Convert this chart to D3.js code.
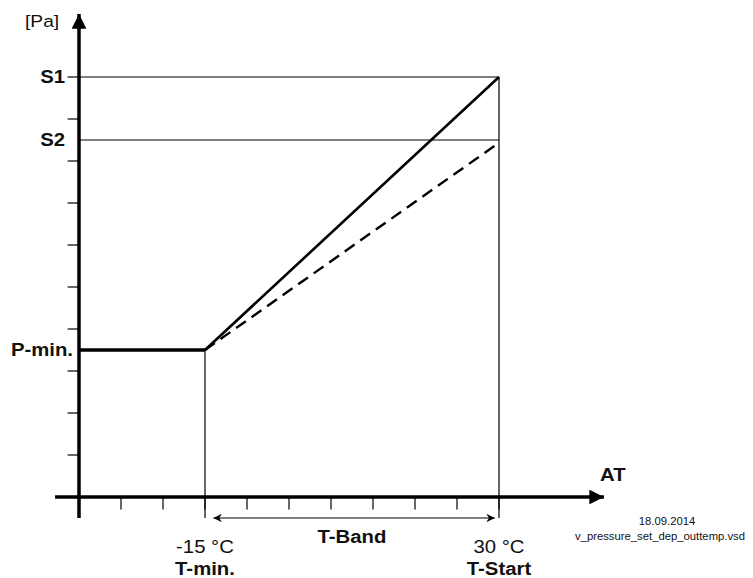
<!DOCTYPE html>
<html>
<head>
<meta charset="utf-8">
<script src="https://cdn.jsdelivr.net/npm/d3@7"></script>
<style>
  body { margin: 0; background: #fff; }
  text { font-family: "Liberation Sans", Arial, sans-serif; fill: #111; }
</style>
</head>
<body>
<svg id="chart" width="753" height="578"></svg>
<script>
// chart values (axis units = one tick step)
const xTicks = [1, 2, 3, 4, 5, 6, 7, 8, 9, 10];
const yTicks = [1, 2, 3, 4, 5, 6, 7, 8, 9, 10];
const tempPos = [3, 10];
const tempLabels = ['-15 °C', '30 °C'];
const tempNames = ['T-min.', 'T-Start'];
const levelNames = ['S1', 'S2'];
const levelValues = [10, 8.5];
const pMin = 3.5;
const solidLine = [[3, 3.5], [10, 10]];
const dashedLine = [[3, 3.5], [9.95, 8.4]];
const xMax = 12.5, yMax = 11.5;

const svg = d3.select('#chart');
const x = d3.scaleLinear().domain([0, 10]).range([79, 499]);
const y = d3.scaleLinear().domain([0, 10]).range([497, 77]);
const line = d3.line().x(d => x(d[0])).y(d => y(d[1]));

const defs = svg.append('defs');
defs.append('marker').attr('id', 'big').attr('viewBox', '0 0 10 10')
  .attr('refX', 10).attr('refY', 5).attr('markerWidth', 6).attr('markerHeight', 4.2)
  .attr('markerUnits', 'strokeWidth').attr('orient', 'auto')
  .append('path').attr('d', 'M0,0L10,5L0,10Z').attr('fill', '#000');
defs.append('marker').attr('id', 'small').attr('viewBox', '0 0 10 10')
  .attr('refX', 10).attr('refY', 5).attr('markerWidth', 12).attr('markerHeight', 7)
  .attr('markerUnits', 'strokeWidth').attr('orient', 'auto-start-reverse')
  .append('path').attr('d', 'M0,0L10,5L0,10L3,5Z').attr('fill', '#000');

// thin guide lines
levelValues.forEach(v => {
  svg.append('line').attr('x1', x(0)).attr('x2', x(10)).attr('y1', y(v)).attr('y2', y(v))
    .attr('stroke', '#000').attr('stroke-width', 1.2);
});
svg.append('line').attr('x1', x(tempPos[0])).attr('x2', x(tempPos[0]))
  .attr('y1', y(pMin)).attr('y2', y(-0.5)).attr('stroke', '#000').attr('stroke-width', 1.2);
svg.append('line').attr('x1', x(tempPos[1])).attr('x2', x(tempPos[1]))
  .attr('y1', y(10)).attr('y2', y(-0.5)).attr('stroke', '#000').attr('stroke-width', 1.2);

// ticks
svg.selectAll('.xt').data(xTicks).enter().append('line')
  .attr('x1', d => x(d)).attr('x2', d => x(d)).attr('y1', y(0)).attr('y2', y(-0.3))
  .attr('stroke', '#000').attr('stroke-width', 1.2);
svg.selectAll('.yt').data(yTicks).enter().append('line')
  .attr('x1', x(-0.27)).attr('x2', x(0)).attr('y1', d => y(d)).attr('y2', d => y(d))
  .attr('stroke', '#000').attr('stroke-width', 1.2);

// axes
svg.append('line').attr('x1', x(0)).attr('x2', x(0)).attr('y1', y(-0.5)).attr('y2', y(yMax))
  .attr('stroke', '#000').attr('stroke-width', 3.5).attr('marker-end', 'url(#big)');
svg.append('line').attr('x1', x(-0.57)).attr('x2', x(xMax)).attr('y1', y(0)).attr('y2', y(0))
  .attr('stroke', '#000').attr('stroke-width', 3.5).attr('marker-end', 'url(#big)');

// curves
svg.append('line').attr('x1', x(0)).attr('x2', x(3)).attr('y1', y(pMin)).attr('y2', y(pMin))
  .attr('stroke', '#000').attr('stroke-width', 3.5);
svg.append('path').attr('d', line(solidLine)).attr('fill', 'none')
  .attr('stroke', '#000').attr('stroke-width', 2.6);
svg.append('path').attr('d', line(dashedLine)).attr('fill', 'none')
  .attr('stroke', '#000').attr('stroke-width', 2.4).attr('stroke-dasharray', '12 7');

// T-Band arrow
svg.append('line').attr('x1', x(3.2)).attr('x2', x(9.9)).attr('y1', y(-0.5)).attr('y2', y(-0.5))
  .attr('stroke', '#000').attr('stroke-width', 1.2)
  .attr('marker-start', 'url(#small)').attr('marker-end', 'url(#small)');

// labels (the source drawing is slightly stretched horizontally)
function label(px, py, str, size, bold, anchor) {
  svg.append('text')
    .attr('transform', `translate(${px},${py}) scale(1.13,1)`)
    .attr('text-anchor', anchor || 'start')
    .attr('font-size', size)
    .attr('font-weight', bold ? 'bold' : 'normal')
    .text(str);
}
label(25, 27, '[Pa]', 17, false);
levelNames.forEach((n, i) => label(65, y(levelValues[i]) + 6, n, 18, true, 'end'));
label(73, y(pMin) + 6, 'P-min.', 18, true, 'end');
tempPos.forEach((p, i) => {
  label(x(p), 553, tempLabels[i], 18, false, 'middle');
  label(x(p), 575, tempNames[i], 18, true, 'middle');
});
label(352, 543, 'T-Band', 18, true, 'middle');
label(600, 481, 'AT', 18, true);
label(667, 525, '18.09.2014', 10, false, 'middle');
label(575, 540, 'v_pressure_set_dep_outtemp.vsd', 10, false);
</script>
</body>
</html>
